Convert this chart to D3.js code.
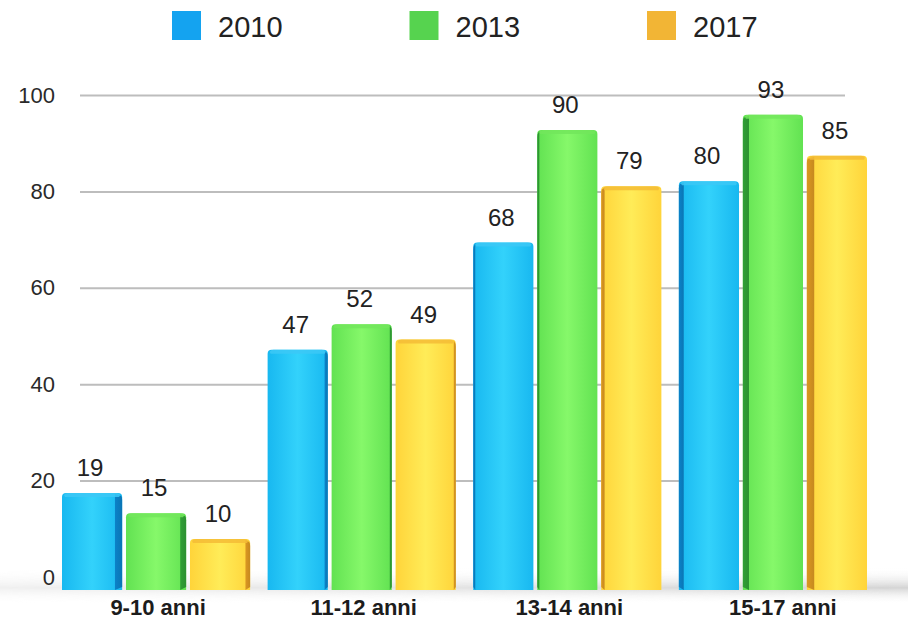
<!DOCTYPE html>
<html>
<head>
<meta charset="utf-8">
<script src="https://cdn.jsdelivr.net/npm/d3@7"></script>
<style>
  html, body { margin: 0; padding: 0; background: #fff; }
  svg { display: block; font-family: "Liberation Sans", Arial, Helvetica, sans-serif; }
</style>
</head>
<body>
<svg id="chart" width="908" height="620"></svg>
<script>
// Age groups and survey years
const categories = ["9-10 anni", "11-12 anni", "13-14 anni", "15-17 anni"];
const years = ["2010", "2013", "2017"];
// Percent values per year, in category order
const values2010 = [19, 47, 68, 80];
const values2013 = [15, 52, 90, 93];
const values2017 = [10, 49, 79, 85];
const yTicks = [0, 20, 40, 60, 80, 100];

const seriesValues = [values2010, values2013, values2017];
const rows = categories.map((c, i) => ({
  category: c,
  items: years.map((y, k) => ({ year: y, value: seriesValues[k][i] }))
}));

const palette = {
  "2010": { light: "#33d2fb", main: "#18b8f0", dark: "#0a7fc6", top: "#3cc8f6", legend: "#14a3f0" },
  "2013": { light: "#86f86a", main: "#62e252", dark: "#2e9c34", top: "#72e65c", legend: "#56d34f" },
  "2017": { light: "#ffec58", main: "#ffd43a", dark: "#d99420", top: "#f4bc36", legend: "#f2b535" }
};

const svg = d3.select("#chart");
const defs = svg.append("defs");

// Front-face and side-face gradients for each series
years.forEach(y => {
  const p = palette[y];
  const g = defs.append("linearGradient").attr("id", "front" + y)
    .attr("x1", 0).attr("y1", 0).attr("x2", 1).attr("y2", 0);
  g.append("stop").attr("offset", "0%").attr("stop-color", p.main);
  g.append("stop").attr("offset", "50%").attr("stop-color", p.light);
  g.append("stop").attr("offset", "100%").attr("stop-color", p.main);
  const s = defs.append("linearGradient").attr("id", "side" + y)
    .attr("x1", 0).attr("y1", 0).attr("x2", 1).attr("y2", 0);
  s.append("stop").attr("offset", "0%").attr("stop-color", p.dark);
  s.append("stop").attr("offset", "100%").attr("stop-color", d3.color(p.dark).darker(0.3));
});

// Floor shadow
const fl = defs.append("linearGradient").attr("id", "floor")
  .attr("x1", 0).attr("y1", 0).attr("x2", 0).attr("y2", 1);
fl.append("stop").attr("offset", "0%").attr("stop-color", "#ffffff").attr("stop-opacity", 0);
fl.append("stop").attr("offset", "55%").attr("stop-color", "#cfcfcf").attr("stop-opacity", 0.9);
fl.append("stop").attr("offset", "100%").attr("stop-color", "#ffffff").attr("stop-opacity", 0);
const flH = defs.append("linearGradient").attr("id", "floorMask")
  .attr("x1", 0).attr("y1", 0).attr("x2", 1).attr("y2", 0);
flH.append("stop").attr("offset", "0%").attr("stop-color", "#fff").attr("stop-opacity", 0.35);
flH.append("stop").attr("offset", "100%").attr("stop-color", "#fff").attr("stop-opacity", 1);
defs.append("mask").attr("id", "floorFade")
  .append("rect").attr("x", 0).attr("y", 560).attr("width", 908).attr("height", 50)
  .attr("fill", "url(#floorMask)");

// Back wall scale (gridlines and tick labels) and front plane scale (bars)
const yWall = d3.scaleLinear().domain([0, 100]).range([577, 95]);
const yBar = d3.scaleLinear().domain([0, 100]).range([590, 79]);

const x0 = d3.scaleBand().domain(categories).range([62, 867]).paddingInner(0.085).paddingOuter(0);
const x1 = d3.scaleBand().domain(years).range([0, x0.bandwidth()]).paddingInner(0.06);
const vanishX = 460;

svg.append("rect").attr("x", 0).attr("y", 568).attr("width", 908).attr("height", 36)
  .attr("fill", "url(#floor)").attr("mask", "url(#floorFade)");

// Gridlines
const axis = d3.axisLeft(yWall).tickValues(yTicks).tickSize(-765).tickPadding(25);
const gAxis = svg.append("g").attr("transform", "translate(80,0)").call(axis);
gAxis.select(".domain").remove();
gAxis.selectAll(".tick line").attr("stroke", "#bdbdbd").attr("stroke-width", 2);
gAxis.selectAll(".tick text").attr("fill", "#2a2a2a").attr("font-size", 22)
  .attr("font-family", "Liberation Sans, Arial, sans-serif");
gAxis.selectAll(".tick").filter(d => d === 0).select("line").remove();

// Bars: front face plus a side face on the side facing away from the vanishing point
const groups = svg.append("g").selectAll("g").data(rows).join("g")
  .attr("transform", d => `translate(${x0(d.category)},0)`);

const bars = groups.selectAll("g.bar").data(d => d.items).join("g").attr("class", "bar");

bars.each(function(d) {
  const g = d3.select(this);
  const parent = d3.select(this.parentNode).datum();
  const x = x1(d.year), w = x1.bandwidth();
  const cx = x0(parent.category) + x + w / 2;
  const off = (cx - vanishX) / vanishX;        // -1 .. 1
  const side = Math.max(2, Math.abs(off) * 9);
  const top = yBar(d.value), base = yBar(0);
  const p = palette[d.year];
  const r = 4;
  // whole bar silhouette in the front colour
  g.append("path")
    .attr("d", `M${x},${base} L${x},${top + r} Q${x},${top} ${x + r},${top} L${x + w - r},${top} Q${x + w},${top} ${x + w},${top + r} L${x + w},${base} Z`)
    .attr("fill", `url(#front${d.year})`);
  // side face
  const sx = off < 0 ? x + w - side : x;
  g.append("path")
    .attr("d", off < 0
      ? `M${sx},${top + 1} L${x + w - 1},${top + 3} Q${x + w},${top + 4} ${x + w},${top + 7} L${x + w},${base - 3} L${sx},${base} Z`
      : `M${sx + side},${top + 1} L${x + 1},${top + 3} Q${x},${top + 4} ${x},${top + 7} L${x},${base - 3} L${sx + side},${base} Z`)
    .attr("fill", `url(#side${d.year})`).attr("opacity", 0.95);
  // top bevel
  g.append("path")
    .attr("d", `M${x + 2},${top + 2} Q${x + 3},${top} ${x + r + 2},${top} L${x + w - r - 2},${top} Q${x + w - 3},${top} ${x + w - 2},${top + 2} L${x + w - 3},${top + 4} L${x + 3},${top + 4} Z`)
    .attr("fill", p.top).attr("opacity", 0.85);
});

// Value labels
bars.append("text")
  .attr("x", d => x1(d.year) + x1.bandwidth() / 2 - 2)
  .attr("y", d => yBar(d.value) - 17)
  .attr("text-anchor", "middle")
  .attr("font-size", 24)
  .attr("fill", "#222")
  .text(d => d.value);

// Category labels
svg.append("g").selectAll("text").data(categories).join("text")
  .attr("x", d => x0(d) + x0.bandwidth() / 2 + (d === "15-17 anni" ? 10 : 2))
  .attr("y", 615)
  .attr("text-anchor", "middle")
  .attr("font-size", 22)
  .attr("font-weight", "bold")
  .attr("fill", "#1c1c1c")
  .text(d => d);

// Legend
const legendX = d3.scalePoint().domain(years).range([172, 647]);
const lg = svg.append("g").selectAll("g").data(years).join("g")
  .attr("transform", d => `translate(${legendX(d)},11)`);
lg.append("rect").attr("width", 29).attr("height", 29).attr("fill", d => palette[d].legend);
lg.append("text").attr("x", 46).attr("y", 26)
  .attr("font-size", 29).attr("fill", "#222")
  .text(d => d);
</script>
</body>
</html>
